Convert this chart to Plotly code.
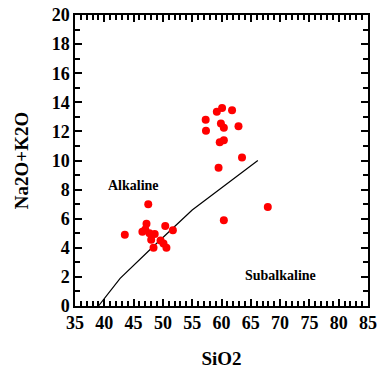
import plotly.graph_objects as go

# Sample data: SiO2 vs total alkalis (Na2O+K2O), wt%
sio2 = [47.5, 43.5, 47.2, 46.5, 47.0, 47.7, 48.6, 48.0, 48.4, 50.4, 51.7, 49.6, 50.1, 50.6,
        57.3, 57.35, 59.2, 60.1, 61.8, 59.9, 60.4, 62.9, 59.7, 60.4, 63.5, 59.5, 67.9, 60.4]
alkalis = [7.0, 4.9, 5.65, 5.1, 5.25, 5.0, 4.95, 4.55, 4.0, 5.5, 5.2, 4.5, 4.3, 4.0,
           12.8, 12.05, 13.35, 13.6, 13.45, 12.55, 12.25, 12.35, 11.25, 11.4, 10.2, 9.5, 6.8, 5.9]

# Alkaline / subalkaline dividing line (Irvine & Baragar style)
line_sio2 = [39.0, 42.7, 48.0, 55.0, 66.2]
line_alk = [0.0, 1.9, 3.95, 6.6, 10.0]

x_range = [35, 85]
y_range = [0, 20]
x_ticks = [35, 40, 45, 50, 55, 60, 65, 70, 75, 80, 85]
y_ticks = [0, 2, 4, 6, 8, 10, 12, 14, 16, 18, 20]

field_labels = ["Alkaline", "Subalkaline"]
field_x = [45.0, 70.1]
field_y = [8.25, 2.13]

FONT = "Liberation Serif"

fig = go.Figure()
fig.add_trace(go.Scatter(x=line_sio2, y=line_alk, mode="lines",
                         line=dict(color="black", width=1.2), showlegend=False,
                         hoverinfo="skip"))
fig.add_trace(go.Scatter(x=sio2, y=alkalis, mode="markers",
                         marker=dict(color="#ff0000", size=8, line=dict(width=0)),
                         showlegend=False))
# empty trace to create the tick-mark overlay subplot
fig.add_trace(go.Scatter(x=[], y=[], xaxis="x2", yaxis="y2", showlegend=False,
                         hoverinfo="skip"))

for t, xx, yy in zip(field_labels, field_x, field_y):
    fig.add_annotation(x=xx, y=yy, text="<b>" + t + "</b>", showarrow=False,
                       font=dict(family=FONT, size=14, color="black"))

tickfont = dict(family=FONT, size=18, color="black")
titlefont = dict(family=FONT, size=19, color="black")

common = dict(ticks="inside", ticklen=7, tickwidth=1.5, tickcolor="black",
              showline=True, linewidth=1.5, linecolor="black", mirror="ticks",
              showgrid=False, zeroline=False, tickfont=tickfont, automargin=False)

fig.update_layout(
    xaxis=dict(range=x_range, tickmode="array", tickvals=x_ticks,
               ticktext=["<b>%d</b>" % v for v in x_ticks],
               title=dict(text="<b>SiO2</b>", font=titlefont, standoff=19), **common),
    yaxis=dict(range=y_range, tickmode="array", tickvals=y_ticks,
               ticktext=["<b>%d</b>" % v for v in y_ticks],
               title=dict(text="<b>Na2O+K2O</b>", font=titlefont, standoff=18), **common),
    xaxis2=dict(range=x_range, overlaying="x", tickmode="linear", tick0=35, dtick=1,
                ticks="inside", ticklen=5, tickwidth=1.5, tickcolor="black",
                showticklabels=False, showline=False, mirror="ticks", showgrid=False,
                zeroline=False, automargin=False),
    yaxis2=dict(range=y_range, overlaying="y", tickmode="linear", tick0=0, dtick=1,
                ticks="inside", ticklen=5, tickwidth=1.5, tickcolor="black",
                showticklabels=False, showline=False, mirror="ticks", showgrid=False,
                zeroline=False, automargin=False),
    width=378, height=373,
    margin=dict(l=75, r=10, t=15, b=67, autoexpand=False),
    paper_bgcolor="white", plot_bgcolor="white", showlegend=False,
)

fig.write_html("out.html", config={"displayModeBar": False},
               post_script="document.body.style.margin='0';")
